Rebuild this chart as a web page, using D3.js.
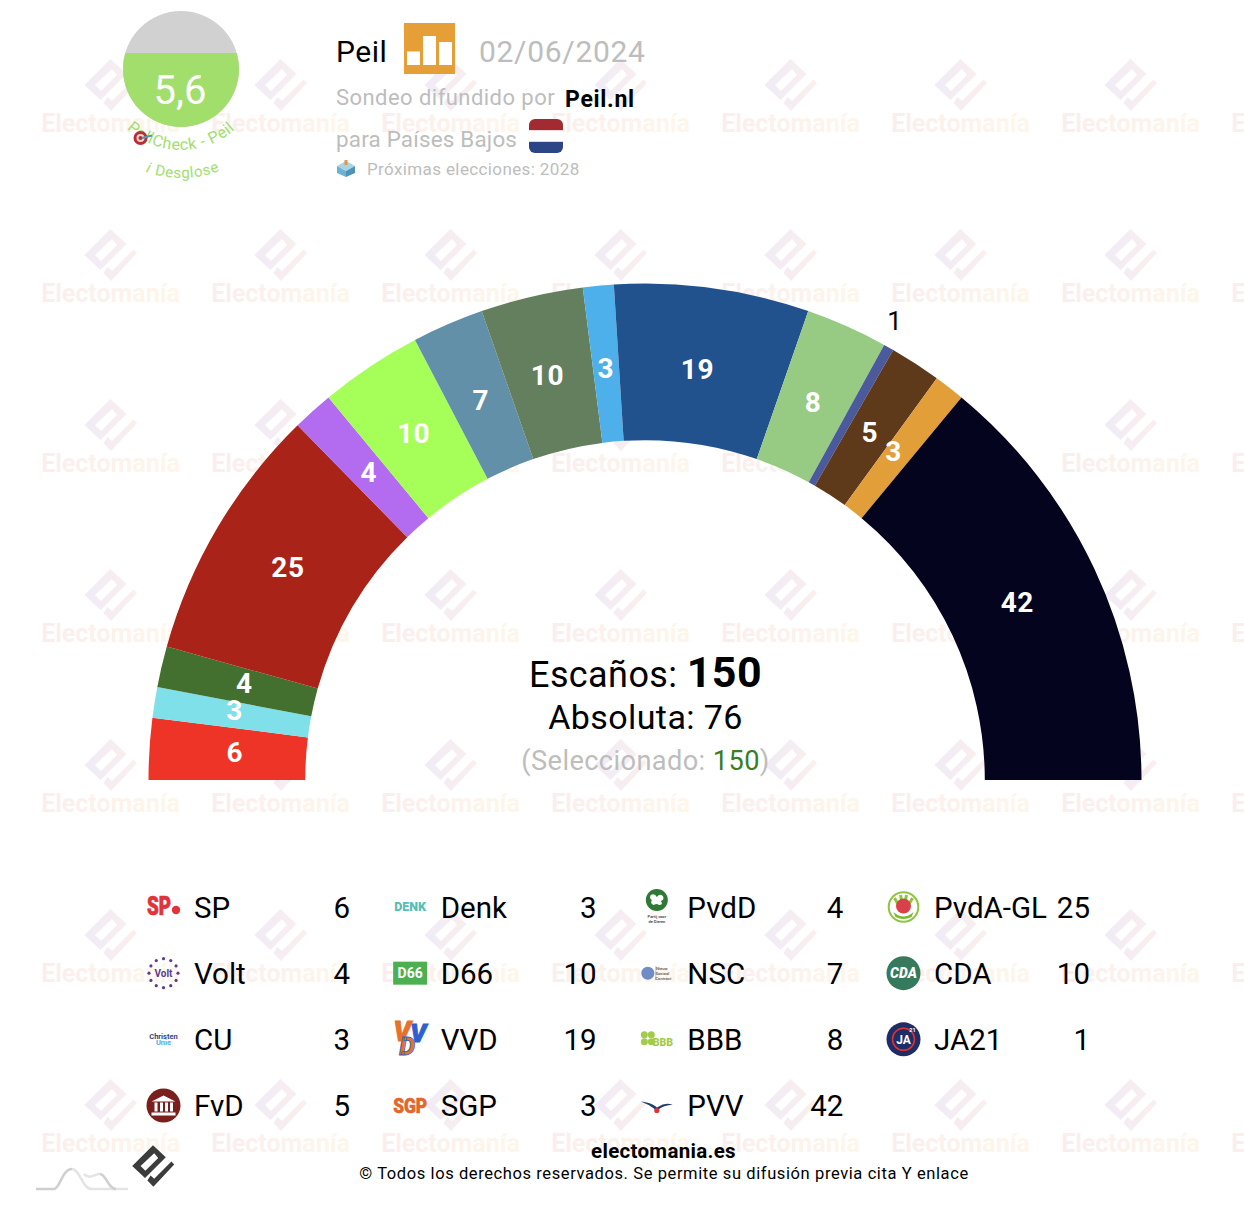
<!DOCTYPE html>
<html>
<head>
<meta charset="utf-8">
<title>Peil - Países Bajos</title>
<script src="https://cdn.jsdelivr.net/npm/d3@7/dist/d3.min.js"></script>
<style>
  html, body { margin: 0; padding: 0; background: #fff; }
  svg { display: block; }
  text { font-family: Roboto, sans-serif; }
</style>
</head>
<body>
<script>
// Seats per party, in the order they run round the hemicycle.
var parties = ['SP', 'Denk', 'PvdD', 'PvdA-GL', 'Volt', 'D66', 'NSC', 'CDA', 'CU', 'VVD', 'BBB', 'JA21', 'FvD', 'SGP', 'PVV'];
var seats = [6, 3, 4, 25, 4, 10, 7, 10, 3, 19, 8, 1, 5, 3, 42];
var partyColours = ['#ee3427', '#80e0ea', '#43702f', '#a92318', '#b36cf0', '#a6ff58', '#6290a8', '#647f5d', '#4eb0ea', '#22528e', '#97ca82', '#4a5a9c', '#5f3a1a', '#e29e38', '#05041f'];

var pollster = 'Peil';
var pollDate = '02/06/2024';
var pollSource = 'Peil.nl';
var pollScore = 5.6;
var totalSeats = 150;
var majority = 76;
var selected = 150;

var width = 1244,
    height = 1214,
    centre = {x: 645, y: 780},
    outerRadius = 496.5,
    innerRadius = 339.8,
    labelRadius = 412,
    outsideRadius = 522;

// Labels sit a little off the centre of their slice in the original.
var labelNudge = {
  'SP': [2, 0.4],
  'Denk': [-2.5, -3],
  'PvdD': [1.5, -1],
  'PvdA-GL': [-1.5, -1.6],
  'Volt': [0.5, 0.4],
  'D66': [-2.5, -1.6],
  'NSC': [0.5, 0],
  'CDA': [-2.5, -1.6],
  'CU': [0.5, 0],
  'VVD': [-2.5, -0.6],
  'BBB': [1.5, 0.4],
  'JA21': [-5.5, -2.6],
  'FvD': [1.5, -0.6],
  'SGP': [-3, -1.6],
  'PVV': [0.5, 0]
};

var svg = d3.select('body').append('svg')
  .attr('width', width)
  .attr('height', height);

var defs = svg.append('defs');

function gradient(id, from, to) {
  var g = defs.append('linearGradient').attr('id', id);
  g.append('stop').attr('offset', '0%').attr('stop-color', from);
  g.append('stop').attr('offset', '100%').attr('stop-color', to);
}
gradient('markIcon', '#f0ebf6', '#faefed');
gradient('markText', '#faeeee', '#fef6ea');

// Electomania logo, drawn round its own centre.
var logoBody = 'M0,-26L16,-11L-10,15L-26,0ZM1.5,-16L-15.5,0L-9.5,6L6.5,-10Z';
var logoCheck = 'M26.5,-2L23,-5.5L1.5,16L-3,12L-7,18L0.5,26Z';

// Repeating watermark behind everything.
var tiles = [];
d3.range(7).forEach(function (row) {
  d3.range(8).forEach(function (col) {
    tiles.push({x: 110.5 + col * 170, y: 85 + row * 170});
  });
});
var marks = svg.append('g').selectAll('g').data(tiles).join('g')
  .attr('transform', function (d) { return 'translate(' + d.x + ',' + d.y + ')'; });
marks.append('path')
  .attr('d', logoBody + logoCheck)
  .attr('fill-rule', 'evenodd')
  .attr('fill', 'url(#markIcon)');
marks.append('text')
  .attr('y', 47)
  .attr('text-anchor', 'middle')
  .attr('font-size', 25)
  .attr('font-weight', 700)
  .attr('fill', 'url(#markText)')
  .text('Electomanía');

// Hemicycle.
var colour = d3.scaleOrdinal().domain(parties).range(partyColours);
var rows = parties.map(function (p, i) { return {party: p, seats: seats[i]}; });

var pie = d3.pie()
  .sort(null)
  .value(function (d) { return d.seats; })
  .startAngle(-Math.PI / 2)
  .endAngle(Math.PI / 2);
var arc = d3.arc().innerRadius(innerRadius).outerRadius(outerRadius);
var labelArc = d3.arc().innerRadius(labelRadius).outerRadius(labelRadius);
var outsideArc = d3.arc().innerRadius(outsideRadius).outerRadius(outsideRadius);

var hemicycle = svg.append('g')
  .attr('transform', 'translate(' + centre.x + ',' + centre.y + ')');
var slices = pie(rows);

hemicycle.selectAll('path').data(slices).join('path')
  .attr('d', arc)
  .attr('fill', function (d) { return colour(d.data.party); });

hemicycle.selectAll('text').data(slices).join('text')
  .attr('transform', function (d) {
    var c = d.data.seats < 2 ? outsideArc.centroid(d) : labelArc.centroid(d),
        n = labelNudge[d.data.party] || [0, 0];
    return 'translate(' + (c[0] + n[0] - 1) + ',' + (c[1] + n[1]) + ')';
  })
  .attr('text-anchor', 'middle')
  .attr('dy', '0.28em')
  .attr('font-size', function (d) { return d.data.seats < 2 ? 26 : 28; })
  .attr('font-weight', function (d) { return d.data.seats < 2 ? 400 : 700; })
  .attr('letter-spacing', 0.5)
  .attr('fill', function (d) { return d.data.seats < 2 ? '#000' : '#fff'; })
  .text(function (d) { return d.data.seats; });

// Totals in the middle of the hemicycle.
var escanos = svg.append('text')
  .attr('x', 645.5).attr('y', 687)
  .attr('text-anchor', 'middle')
  .attr('font-size', 36)
  .attr('letter-spacing', 0.4);
escanos.append('tspan').text('Escaños: ');
escanos.append('tspan').attr('font-size', 43).attr('font-weight', 700).text(totalSeats);

svg.append('text')
  .attr('x', 645.5).attr('y', 729)
  .attr('text-anchor', 'middle')
  .attr('font-size', 34)
  .attr('letter-spacing', 0.4)
  .text('Absoluta: ' + majority);

var seleccion = svg.append('text')
  .attr('x', 645.5).attr('y', 770)
  .attr('text-anchor', 'middle')
  .attr('font-size', 27.2)
  .attr('letter-spacing', 0.4)
  .attr('fill', '#bdbdbd');
seleccion.append('tspan').text('(Seleccionado: ');
seleccion.append('tspan').attr('fill', '#3a7d22').text(selected);
seleccion.append('tspan').text(')');

// Legend, filled row by row.
var legendX = d3.scalePoint().domain(d3.range(4)).range([194, 934]);
var legendY = d3.scalePoint().domain(d3.range(4)).range([907, 1105.5]);
var legend = svg.append('g').selectAll('g').data(rows).join('g')
  .attr('transform', function (d, i) {
    return 'translate(' + legendX(i % 4) + ',' + legendY(Math.floor(i / 4)) + ')';
  });
legend.append('text')
  .attr('dy', '0.37em')
  .attr('font-size', 29.5)
  .text(function (d) { return d.party; });
legend.append('text')
  .attr('x', 156)
  .attr('dy', '0.37em')
  .attr('text-anchor', 'end')
  .attr('font-size', 29.5)
  .text(function (d) { return d.seats; });

function tinyText(g, str, size, fill, y, weight, style) {
  return g.append('text')
    .attr('y', y || 0)
    .attr('text-anchor', 'middle')
    .attr('dominant-baseline', 'central')
    .attr('font-size', size)
    .attr('font-weight', weight || 900)
    .attr('font-style', style || 'normal')
    .attr('fill', fill)
    .text(str);
}

// Party logos, roughly redrawn. Each is centred on the origin.
var logos = {
  'SP': function (g) {
    tinyText(g, 'SP', 25, '#e2333a', -1).attr('x', -4.5)
      .attr('stroke', '#e2333a').attr('stroke-width', 0.7)
      .attr('textLength', 24).attr('lengthAdjust', 'spacingAndGlyphs');
    g.append('circle').attr('cx', 12.5).attr('cy', 3).attr('r', 4.2).attr('fill', '#e2333a');
  },
  'Denk': function (g) {
    tinyText(g, 'DENK', 12.5, '#56bdb8', -1);
  },
  'PvdD': function (g) {
    g.append('circle').attr('cy', -7).attr('r', 11).attr('fill', '#2e7a35');
    g.append('path').attr('d', 'M-6,-12Q-2,-14 0,-10Q3,-14 6,-11Q8,-7 4,-6Q7,-2 2,-2Q0,-4 -3,-2Q-7,-3 -5,-7Q-8,-9 -6,-12Z').attr('fill', '#fff');
    tinyText(g, 'Partij voor', 4, '#333', 9, 500);
    tinyText(g, 'de Dieren', 4, '#333', 14, 500);
  },
  'PvdA-GL': function (g) {
    g.append('circle').attr('r', 14.8).attr('fill', '#fff').attr('stroke', '#8cc63f').attr('stroke-width', 2);
    g.append('path').attr('d', 'M-10,5Q0,14 10,5L8,10Q0,14 -8,10Z').attr('fill', '#7ab82c');
    g.append('path').attr('d', 'M-9,-9L-5,-2M9,-9L5,-2M-3,-12L-2,-7M3,-12L2,-7').attr('stroke', '#8cc63f').attr('stroke-width', 3);
    g.append('circle').attr('cy', -1).attr('r', 7.5).attr('fill', '#d8414a');
  },
  'Volt': function (g) {
    d3.range(12).forEach(function (i) {
      var a = i / 12 * 2 * Math.PI;
      g.append('circle').attr('cx', 14.5 * Math.sin(a)).attr('cy', 14.5 * Math.cos(a)).attr('r', 1.6).attr('fill', '#5e3a8c');
    });
    tinyText(g, 'Volt', 10, '#5e3a8c', 0, 700);
  },
  'D66': function (g) {
    g.append('rect').attr('x', -17).attr('y', -11.5).attr('width', 34).attr('height', 23).attr('fill', '#4caf50');
    tinyText(g, 'D66', 14, '#fff', 0, 700);
  },
  'NSC': function (g) {
    g.append('circle').attr('cx', -9).attr('r', 6.5).attr('fill', '#6f8cc4');
    g.append('line').attr('x1', -1).attr('x2', -1).attr('y1', -7).attr('y2', 7).attr('stroke', '#bbb');
    tinyText(g, 'Nieuw', 4.2, '#555', -5, 500).attr('x', 5);
    tinyText(g, 'Sociaal', 4.2, '#555', 0, 500).attr('x', 5.5);
    tinyText(g, 'Contract', 4.2, '#555', 5, 500).attr('x', 6.5);
  },
  'CDA': function (g) {
    g.append('circle').attr('r', 17).attr('fill', '#357a5c');
    tinyText(g, 'CDA', 14, '#fff', 0, 900, 'italic');
  },
  'CU': function (g) {
    tinyText(g, 'Christen', 7.5, '#33477f', -3, 700);
    tinyText(g, 'Unie', 7.5, '#5aa9e0', 3, 700);
  },
  'VVD': function (g) {
    tinyText(g, 'V', 27, '#e8702a', -7, 900, 'italic').attr('x', -8).attr('stroke', '#e8702a');
    tinyText(g, 'V', 25, '#2f5fd0', -6, 900, 'italic').attr('x', 8).attr('stroke', '#2f5fd0');
    tinyText(g, 'D', 25, '#e8702a', 7, 900, 'italic').attr('x', -3).attr('stroke', '#2f5fd0').attr('stroke-width', 0.8);
  },
  'BBB': function (g) {
    d3.range(4).forEach(function (i) {
      g.append('circle')
        .attr('cx', -9 + (i % 2 ? 3.5 : -3.5))
        .attr('cy', -1 + (i < 2 ? -3.5 : 3.5))
        .attr('r', 3.5).attr('fill', '#a3cb4a');
    });
    tinyText(g, 'BBB', 10.5, '#a3cb4a', 3.5).attr('x', 6);
  },
  'JA21': function (g) {
    g.append('circle').attr('r', 17).attr('fill', '#1f2d66');
    g.append('circle').attr('r', 11).attr('fill', 'none').attr('stroke', '#d33').attr('stroke-width', 1.5);
    tinyText(g, 'JA', 12, '#fff', 1, 700);
    tinyText(g, '21', 5.5, '#fff', -9, 700).attr('x', 9);
  },
  'FvD': function (g) {
    g.append('circle').attr('r', 17).attr('fill', '#7a1f1c');
    g.append('path').attr('d', 'M-12,-4L0,-10L12,-4ZM-9,-3h3v9h-3ZM-3.5,-3h3v9h-3ZM1.5,-3h3v9h-3ZM6.5,-3h3v9h-3ZM-12,7h24v3h-24Z').attr('fill', '#fff');
  },
  'SGP': function (g) {
    tinyText(g, 'SGP', 20, '#e2672a').attr('stroke', '#e2672a').attr('stroke-width', 0.6)
      .attr('textLength', 34).attr('lengthAdjust', 'spacingAndGlyphs');
  },
  'PVV': function (g) {
    g.append('path').attr('d', 'M-16,-4Q-6,-3 -1,1L0,2L2,1Q7,-3 16,-1Q7,0 3,3L0,6L-3,3Q-8,-1 -16,-4Z').attr('fill', '#1f3d6e');
    g.append('circle').attr('cy', 5).attr('r', 2.6).attr('fill', '#d33');
  }
};
legend.append('g')
  .attr('transform', 'translate(-30.5,0)')
  .each(function (d) { logos[d.party](d3.select(this)); });

// Poll score gauge.
var gaugeCentre = {x: 181, y: 69},
    gaugeRadius = 58;
var gaugeLevel = d3.scaleLinear().domain([0, 10]).range([gaugeCentre.y + gaugeRadius, -5]);
defs.append('clipPath').attr('id', 'gaugeFill')
  .append('rect')
  .attr('x', gaugeCentre.x - gaugeRadius)
  .attr('y', gaugeLevel(pollScore))
  .attr('width', gaugeRadius * 2)
  .attr('height', gaugeCentre.y + gaugeRadius - gaugeLevel(pollScore));
svg.append('circle')
  .attr('cx', gaugeCentre.x).attr('cy', gaugeCentre.y).attr('r', gaugeRadius)
  .attr('fill', '#d1d1d1');
svg.append('circle')
  .attr('cx', gaugeCentre.x).attr('cy', gaugeCentre.y).attr('r', gaugeRadius)
  .attr('fill', '#a1de6c')
  .attr('clip-path', 'url(#gaugeFill)');
svg.append('text')
  .attr('x', gaugeCentre.x - 1).attr('y', 104)
  .attr('text-anchor', 'middle')
  .attr('font-size', 40)
  .attr('fill', '#fff')
  .text(String(pollScore).replace('.', ','));

// Curved captions under the gauge.
function lowerArc(id, r) {
  var a = d3.path();
  a.arc(gaugeCentre.x, gaugeCentre.y, r, Math.PI, 0, true);
  defs.append('path').attr('id', id).attr('d', a.toString());
}
lowerArc('pollCheckPath', 81);
lowerArc('desglosePath', 109);
function curved(id, str, offset, size, style) {
  svg.append('text')
    .attr('font-size', size)
    .attr('font-style', style || 'normal')
    .attr('letter-spacing', 0.6)
    .attr('fill', '#a1de6c')
    .attr('text-anchor', 'middle')
    .append('textPath')
    .attr('href', '#' + id)
    .attr('startOffset', offset)
    .text(str);
}
curved('pollCheckPath', 'PollCheck - Peil', '50%', 16);
curved('desglosePath', 'Desglose', '51.9%', 15);
curved('desglosePath', 'i', '40%', 15, 'italic');

// Target icon over the caption.
svg.append('circle').attr('cx', 140.5).attr('cy', 138).attr('r', 7).attr('fill', '#b3303a');
svg.append('circle').attr('cx', 140.5).attr('cy', 138).attr('r', 4).attr('fill', '#f0d0c8');
svg.append('circle').attr('cx', 140.5).attr('cy', 138).attr('r', 2).attr('fill', '#b3303a');
svg.append('path').attr('d', 'M142,138L152,135.5').attr('stroke', '#4f98ad').attr('stroke-width', 2);

// Header.
svg.append('text').attr('x', 336).attr('y', 62)
  .attr('font-size', 30).attr('letter-spacing', 0.5).text(pollster);
var headIcon = svg.append('g').attr('transform', 'translate(404,23)');
headIcon.append('rect').attr('width', 51).attr('height', 51).attr('fill', '#e69f36');
headIcon.selectAll('rect.bar').data([13.5, 29, 23]).join('rect')
  .attr('class', 'bar')
  .attr('x', function (d, i) { return 3 + i * 16; })
  .attr('y', function (d) { return 42 - d; })
  .attr('width', 13)
  .attr('height', function (d) { return d; })
  .attr('fill', '#fff');
svg.append('text').attr('x', 479).attr('y', 62)
  .attr('font-size', 30).attr('letter-spacing', 0.7).attr('fill', '#bdbdbd').text(pollDate);

svg.append('text').attr('x', 336).attr('y', 105)
  .attr('font-size', 22).attr('letter-spacing', 0.45).attr('fill', '#bdbdbd').text('Sondeo difundido por');
svg.append('text').attr('x', 565).attr('y', 107)
  .attr('font-size', 23).attr('font-weight', 700).attr('letter-spacing', 0.7).text(pollSource);
svg.append('text').attr('x', 336).attr('y', 147)
  .attr('font-size', 22.4).attr('letter-spacing', 0.2).attr('fill', '#bdbdbd').text('para Países Bajos');

// Dutch flag.
defs.append('clipPath').attr('id', 'flagClip')
  .append('rect').attr('x', 529).attr('y', 119).attr('width', 34).attr('height', 34).attr('rx', 6);
var flag = svg.append('g').attr('clip-path', 'url(#flagClip)');
flag.selectAll('rect').data(['#a32a30', '#ffffff', '#2b4587']).join('rect')
  .attr('x', 529)
  .attr('y', function (d, i) { return 119 + i * 11.4; })
  .attr('width', 34)
  .attr('height', 11.4)
  .attr('fill', function (d) { return d; });

// Ballot box.
svg.append('path').attr('d', 'M337,166L346,161L355,166L346,171Z').attr('fill', '#a8d4e6');
svg.append('path').attr('d', 'M337,166L346,171V177L337,173Z').attr('fill', '#6fb1d0');
svg.append('path').attr('d', 'M355,166L346,171V177L355,173Z').attr('fill', '#4f93b8');
svg.append('rect').attr('x', 344.5).attr('y', 160).attr('width', 3).attr('height', 5).attr('fill', '#e0994a');

svg.append('text').attr('x', 367).attr('y', 175)
  .attr('font-size', 17).attr('letter-spacing', 0.38).attr('fill', '#bdbdbd').text('Próximas elecciones: 2028');

// Footer.
svg.append('text').attr('x', 663.5).attr('y', 1158)
  .attr('text-anchor', 'middle').attr('font-size', 20.5).attr('font-weight', 700).attr('letter-spacing', 0.3)
  .text('electomania.es');
svg.append('text').attr('x', 664).attr('y', 1179)
  .attr('text-anchor', 'middle').attr('font-size', 16.5).attr('letter-spacing', 0.6)
  .text('© Todos los derechos reservados. Se permite su difusión previa cita Y enlace');

svg.append('path')
  .attr('transform', 'translate(153,1166) scale(0.8)')
  .attr('d', logoBody + logoCheck)
  .attr('fill-rule', 'evenodd')
  .attr('fill', '#3c3c3c');

// Small mountain mark in the corner.
svg.append('path')
  .attr('d', 'M72,1169C80,1169 82,1189 92,1189H128M84,1174C90,1180 94,1174 100,1174')
  .attr('fill', 'none').attr('stroke', '#e4e4e4').attr('stroke-width', 2.5);
svg.append('path')
  .attr('d', 'M36,1189H54C60,1189 62,1169 72,1169M100,1174C106,1174 108,1189 116,1189')
  .attr('fill', 'none').attr('stroke', '#cfcfcf').attr('stroke-width', 2.5);
</script>
</body>
</html>
